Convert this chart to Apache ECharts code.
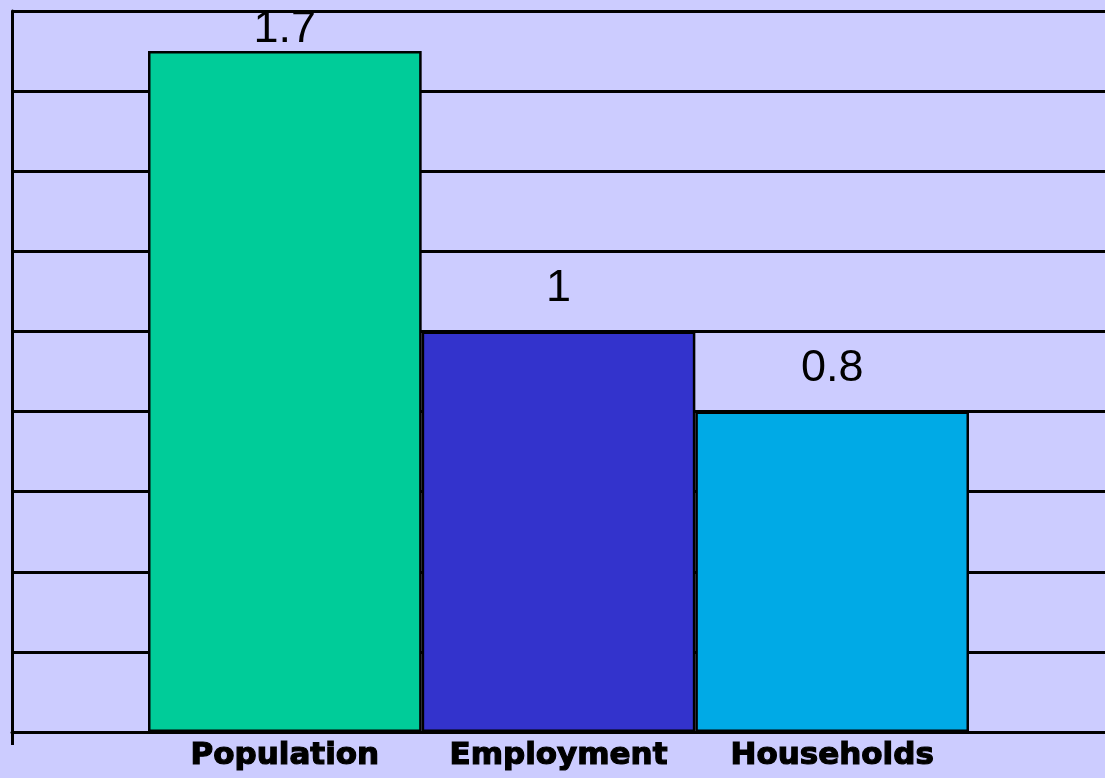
<!DOCTYPE html>
<html>
<head>
<meta charset="utf-8">
<script src="https://cdn.jsdelivr.net/npm/echarts@6/dist/echarts.min.js"></script>
<style>
html,body{margin:0;padding:0;background:#CCCCFF;}
#chart{width:1105px;height:778px;}
</style>
</head>
<body>
<div id="chart"></div>
<script>
const categories = ['Population', 'Employment', 'Households'];
const values = [1.7, 1.0, 0.8];
const yMin = 0, yMax = 1.8, yStep = 0.2;

const barColors = ['#00CC99', '#3333CC', '#00AAE6'];

const chart = echarts.init(document.getElementById('chart'));
const gridTop = 11, gridBottom = 46;

const option = {
  backgroundColor: '#CCCCFF',
  animation: false,
  grid: [
    { left: 12, right: 0, top: gridTop, bottom: gridBottom },
    { left: 148, right: 136, top: gridTop, bottom: gridBottom }
  ],
  xAxis: [
    {
      gridIndex: 0, type: 'value', min: 0, max: 1,
      axisLine: { show: true, lineStyle: { color: '#000', width: 3 } },
      axisTick: { show: true, customValues: [0], length: 13, lineStyle: { color: '#000', width: 3 } },
      axisLabel: { show: false },
      splitLine: { show: false }
    },
    {
      gridIndex: 1, type: 'category', data: categories,
      axisLine: { show: false }, axisTick: { show: false },
      axisLabel: {
        show: true, interval: 0, margin: 8, color: '#000',
        fontFamily: 'DejaVu Sans', fontWeight: 'bold', fontSize: 31,
        textBorderColor: '#000', textBorderWidth: 1.2
      }
    }
  ],
  yAxis: [
    {
      gridIndex: 0, type: 'value', min: yMin, max: yMax, interval: yStep,
      axisLine: { show: true, lineStyle: { color: '#000', width: 3 } },
      axisTick: { show: false }, axisLabel: { show: false },
      splitLine: { show: true, lineStyle: { color: '#000', width: 3 } }
    },
    {
      gridIndex: 1, type: 'value', min: yMin, max: yMax, interval: yStep,
      show: false, splitLine: { show: false }
    }
  ],
  series: [{
    type: 'bar',
    xAxisIndex: 1, yAxisIndex: 1,
    barWidth: '100%',
    data: values.map((v, i) => ({
      value: v,
      itemStyle: { color: barColors[i] },
      label: { distance: v > yMax - 0.15 ? -1 : 20 }
    })),
    itemStyle: { borderColor: '#000', borderWidth: 2.5 },
    label: {
      show: true, position: 'top', color: '#000',
      fontFamily: 'Liberation Sans', fontSize: 45,
      formatter: p => String(p.value)
    }
  }]
};
chart.setOption(option);
</script>
</body>
</html>
